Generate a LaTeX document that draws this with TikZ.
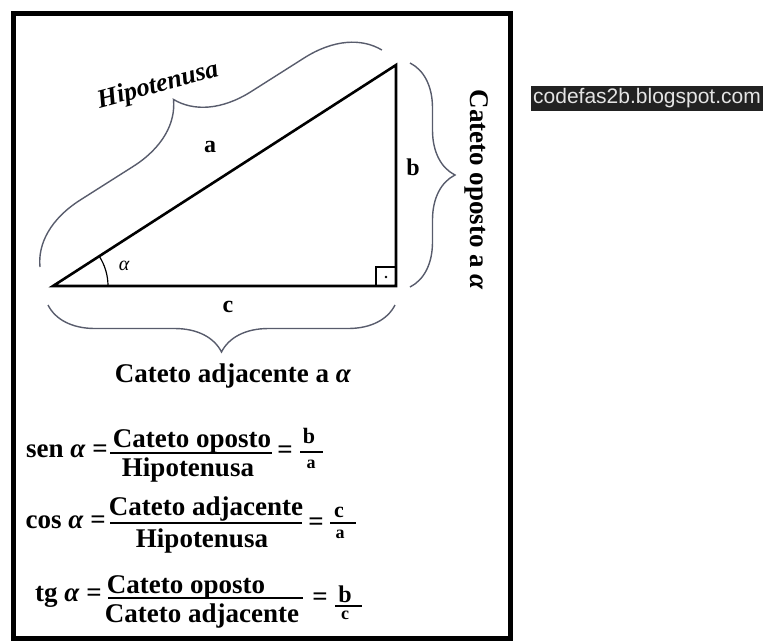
\documentclass[tikz,border=0pt]{standalone}
\usepackage{fontspec}
\setmainfont{Liberation Serif}
\newfontfamily\webfont{Liberation Sans}
\definecolor{bracegray}{RGB}{88,92,108}
\definecolor{webbg}{RGB}{34,34,34}
\definecolor{webtext}{RGB}{228,228,228}
\usetikzlibrary{decorations.pathreplacing,calc}

\begin{document}
\begin{tikzpicture}[x=1pt,y=-1pt,
  bracestroke/.style={draw=bracegray,line width=1.4pt,decorate,decoration={brace,amplitude=#1}},
  side/.style={font=\fontsize{24}{24}\selectfont\bfseries,inner sep=0pt},
  word/.style={font=\fontsize{27}{30}\selectfont\bfseries,inner sep=0pt},
  small/.style={font=\fontsize{#1}{#1}\selectfont\bfseries,inner sep=0pt},
  small/.default=18,
  bar/.style={line width=1.8pt}]
  \useasboundingbox (0,0) rectangle (763,641);
  % Frame
  \draw[line width=5pt] (13.5,13.5) rectangle (510.5,638.5);
  % Triangle
  \coordinate (A) at (53,286);
  \coordinate (B) at (396,65);
  \coordinate (C) at (396,286);
  \draw[line width=2.6pt] (A) -- (C) -- (B) -- cycle;
  \draw[line width=1.2pt] (376,286) -- (376,267) -- (396,267);
  \fill (386,277) circle (1.4);
  \draw[line width=1.2pt] (A) ++(0:55) arc[start angle=0,end angle=-32.8,radius=55];
  \node[font=\fontsize{20}{20}\selectfont\itshape] (alpha) at (124,266) {α};
  % Side labels
  \node[side] (sideA) at (210,147) {a};
  \node[side] (sideB) at (413,167) {b};
  \node[side] (sideC) at (228,307) {c};
  % Braces
  \draw[bracestroke=70pt] (40,267) -- (382,50);
  \draw[bracestroke=45pt] (410,63) -- (410,287);
  \draw[bracestroke=47pt] (395,305) -- (48,305);
  \node[word,font=\fontsize{26}{26}\selectfont\bfseries\itshape,rotate=15] (hyp) at (158,86) {Hipotenusa};
  \node[word,rotate=-90] (opp) at (477,190) {Cateto oposto a \textit{α}};
  \node[word,anchor=base] (adj) at (233,382) {Cateto adjacente a \textit{α}};
  % Sine
  \node[word,anchor=base east] (sen) at (108,457) {sen \textit{α} =};
  \node[word,anchor=base] (senNum) at (192,447) {Cateto oposto};
  \node[word,anchor=base] (senDen) at (188,476) {Hipotenusa};
  \draw[bar] (110,453) -- (272,453);
  \node[word,anchor=base] (senEq) at (285,458) {=};
  \node[small=22,anchor=base] (senB) at (309,443) {b};
  \node[small,anchor=base] (senA) at (311,468) {a};
  \draw[bar] (300,452) -- (323,452);
  % Cosine
  \node[word,anchor=base east] (cos) at (106,528) {cos \textit{α} =};
  \node[word,anchor=base] (cosNum) at (206,515) {Cateto adjacente};
  \node[word,anchor=base] (cosDen) at (202,547) {Hipotenusa};
  \draw[bar] (110,523) -- (302,523);
  \node[word,anchor=base] (cosEq) at (316,530) {=};
  \node[small=22,anchor=base] (cosC) at (339,517) {c};
  \node[small,anchor=base] (cosA) at (340,538) {a};
  \draw[bar] (330,523) -- (356,523);
  % Tangent
  \node[word,anchor=base east] (tg) at (102,601) {tg \textit{α} =};
  \node[word,anchor=base] (tgNum) at (186,593) {Cateto oposto};
  \node[word,anchor=base] (tgDen) at (202,622) {Cateto adjacente};
  \draw[bar] (108,598) -- (303,598);
  \node[word,anchor=base] (tgEq) at (320,605) {=};
  \node[small=24,anchor=base] (tgB) at (345,602) {b};
  \node[small,anchor=base] (tgC) at (345,619) {c};
  \draw[bar] (335,606) -- (362,606);
  % Blog address
  \node[fill=webbg,text=webtext,font=\webfont\fontsize{21}{21}\selectfont,
    minimum width=232pt,minimum height=25pt,inner sep=0pt] (site) at (647,98.5) {codefas2b.blogspot.com};
\end{tikzpicture}
\end{document}
